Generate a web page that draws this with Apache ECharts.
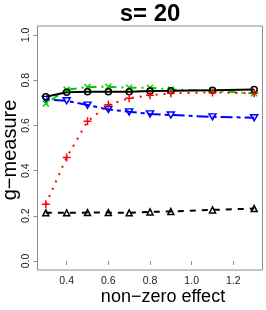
<!DOCTYPE html>
<html><head><meta charset="utf-8">
<script src="https://cdn.jsdelivr.net/npm/echarts@6/dist/echarts.min.js"></script>
<style>html,body{margin:0;padding:0;background:#fff}#c{width:266px;height:310px}</style>
</head><body><div id="c"></div>
<script>
const effects = [0.3, 0.4, 0.5, 0.6, 0.7, 0.8, 0.9, 1.1, 1.3];
const blackCircle = [0.727, 0.747, 0.749, 0.749, 0.749, 0.752, 0.753, 0.756, 0.759];
const greenX = [0.697, 0.758, 0.770, 0.771, 0.767, 0.767, 0.759, 0.753, 0.742];
const redPlus = [0.251, 0.458, 0.618, 0.691, 0.720, 0.734, 0.742, 0.746, 0.742];
const blueTri = [0.715, 0.709, 0.690, 0.671, 0.660, 0.651, 0.646, 0.638, 0.634];
const blackTri = [0.213, 0.213, 0.214, 0.214, 0.213, 0.217, 0.219, 0.226, 0.232];
const xTicks = [0.4, 0.6, 0.8, 1.0, 1.2];
const yTicks = [0.0, 0.2, 0.4, 0.6, 0.8, 1.0];
const titleText = 's= 20';
const xName = 'non\u2212zero effect';
const yName = 'g\u2212measure';

const FONT = '"Liberation Sans", Arial, Helvetica, sans-serif';
const pair = ys => effects.map((x, i) => [x, ys[i]]);
const chart = echarts.init(document.getElementById('c'), null, {renderer: 'canvas'});

function mk(name, data, color, lineType, symbol, size, opts) {
  return Object.assign({
    name, type: 'line', data: pair(data), symbol, symbolSize: size,
    lineStyle: {color, width: 2, type: lineType},
    itemStyle: {color: 'none', borderColor: color, borderWidth: 1.5},
    emphasis: {disabled: true}, animation: false, z: 3
  }, opts || {});
}

chart.setOption({
  animation: false,
  grid: {left: 37.5, right: 3.5, top: 26, bottom: 40, show: true, borderColor: '#8c8c8c', borderWidth: 1, backgroundColor: 'transparent'},
  xAxis: {
    type: 'value', min: 0.26, max: 1.34,
    axisLine: {show: false},
    splitLine: {show: false},
    axisTick: {show: true, length: 4, lineStyle: {color: '#8c8c8c'}, customValues: xTicks},
    axisLabel: {customValues: xTicks, formatter: v => v.toFixed(1), color: '#222', fontSize: 10.5, fontFamily: FONT, margin: 6}
  },
  yAxis: {
    type: 'value', min: -0.04, max: 1.04,
    axisLine: {show: false},
    splitLine: {show: false},
    axisTick: {show: true, length: 4, lineStyle: {color: '#8c8c8c'}, customValues: yTicks},
    axisLabel: {customValues: yTicks, formatter: v => v.toFixed(1), rotate: 90, color: '#222', fontSize: 10.5, fontFamily: FONT, margin: 6}
  },
  series: [
    mk('blackTri', blackTri, '#000', [6, 6], 'triangle', 6),
    mk('blueTri', blueTri, '#0000ff', [4, 4, 12, 4], 'path://M0,0L10,0L5,9Z', [7, 6]),
    mk('greenX', greenX, '#00cd00', [2, 5, 8, 5], 'path://M0,0L10,10M10,0L0,10', 6),
    mk('blackCircle', blackCircle, '#000', 'solid', 'circle', 6),
    mk('redPlus', redPlus, '#ff0000', [2, 6], 'path://M5,0L5,10M0,5L10,5', 8)
  ],
  graphic: [
    {type: 'text', x: 150, y: 14, style: {text: titleText, font: 'bold 24px ' + FONT, fill: '#000', textAlign: 'center', textVerticalAlign: 'middle'}},
    {type: 'text', x: 163, y: 297, style: {text: xName, font: '18px ' + FONT, fill: '#000', textAlign: 'center', textVerticalAlign: 'middle'}},
    {type: 'text', x: 10, y: 150, rotation: Math.PI / 2, style: {text: yName, font: '20px ' + FONT, fill: '#000', textAlign: 'center', textVerticalAlign: 'middle'}}
  ]
});
</script></body></html>
